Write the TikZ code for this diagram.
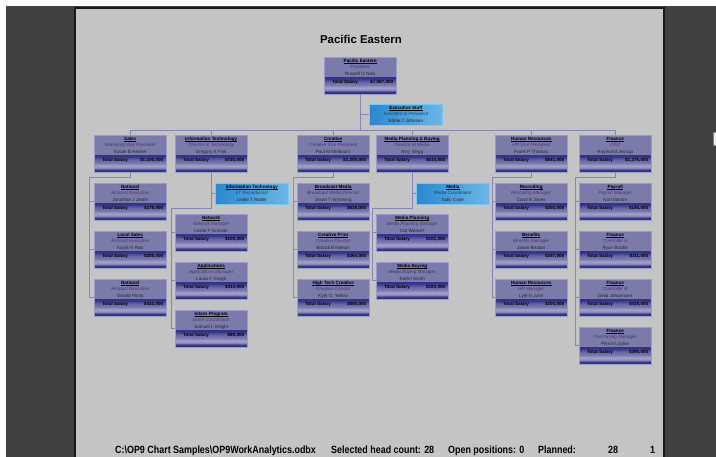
\documentclass[tikz,border=0pt]{standalone}
\usepackage{fontspec}
\setmainfont{Liberation Sans}
\usepackage{graphicx}
\usetikzlibrary{calc}
\definecolor{outerdark}{HTML}{414141}
\definecolor{pagegray}{HTML}{C4C4C4}
\definecolor{boxtop}{HTML}{7C79AB}
\definecolor{boxedge}{HTML}{9C9ACC}
\definecolor{sbA}{HTML}{2A2A7E}
\definecolor{sbB}{HTML}{3A3A88}
\definecolor{sbC}{HTML}{8A88BA}
\definecolor{sbD}{HTML}{A4A2C6}
\definecolor{sbE}{HTML}{7E7CB2}
\definecolor{sbF}{HTML}{6664A2}
\definecolor{sbG}{HTML}{4A489A}
\definecolor{sbH}{HTML}{34338A}
\definecolor{linecol}{HTML}{8886B2}
\definecolor{asstL}{HTML}{2A88CE}
\definecolor{asstR}{HTML}{6CB6E6}
\definecolor{asstEdge}{HTML}{78C8F4}
\definecolor{titlecol}{HTML}{3C3C60}
\definecolor{asstTitle}{HTML}{1C3E6E}
\pgfdeclareverticalshading{salband}{100bp}{color(0bp)=(sbA); color(25bp)=(sbA); color(33bp)=(sbB); color(38bp)=(sbC); color(45bp)=(sbD); color(52bp)=(sbE); color(62bp)=(sbF); color(68bp)=(sbG); color(72bp)=(sbH); color(75bp)=(sbH); color(100bp)=(sbH)}
\tikzset{
  orgbox/.style={minimum width=72pt, minimum height=37pt, inner sep=0pt, fill=boxtop, draw=none},
  asstbox/.style={minimum width=73pt, minimum height=21pt, inner sep=0pt, left color=asstL, right color=asstR, draw=asstEdge, line width=0.7pt},
  boxborder/.style={draw=boxedge, line width=0.7pt},
  boxtext/.style={inner sep=0pt, font=\fontsize{4.6}{5}\selectfont},
  depttxt/.style={boxtext, font=\fontsize{4.6}{5}\selectfont\bfseries, text=black},
  titletxt/.style={boxtext, font=\fontsize{4.6}{5}\selectfont\itshape, text=titlecol},
  nametxt/.style={boxtext, text=black!85},
  saltxt/.style={boxtext, font=\fontsize{4.6}{5}\selectfont\bfseries, text=black},
  uline/.style={draw=black, line width=0.35pt},
  conn/.style={draw=linecol, line width=0.8pt},
  foot/.style={inner sep=0pt, anchor=base west, font=\fontsize{10.5}{12}\bfseries\selectfont}
}
\newcommand\OrgBox[7]{%
  \node[orgbox, anchor=north west] (#1) at (#2,#3) {};
  \shade[shading=salband] ([yshift=-20.5pt]#1.north west) rectangle (#1.south east);
  \draw[boxborder] (#1.north west) rectangle (#1.south east);
  \node[depttxt, anchor=base] (#1-d) at ([yshift=-5.3pt]#1.north) {#4};
  \draw[uline] ([yshift=-0.6pt]#1-d.base west) -- ([yshift=-0.6pt]#1-d.base east);
  \node[titletxt] (#1-t) at ([yshift=-10.3pt]#1.north) {#5};
  \node[nametxt] (#1-n) at ([yshift=-17pt]#1.north) {#6};
  \node[saltxt, anchor=west] (#1-l) at ([xshift=8pt,yshift=-25pt]#1.north west) {Total Salary};
  \node[saltxt, anchor=east] (#1-s) at ([xshift=-3pt,yshift=-25pt]#1.north east) {#7};
}
\newcommand\AsstBox[6]{%
  \node[asstbox, anchor=north west] (#1) at (#2,#3) {};
  \node[depttxt, anchor=base] (#1-d) at ([yshift=-5.3pt]#1.north) {#4};
  \draw[uline] ([yshift=-0.6pt]#1-d.base west) -- ([yshift=-0.6pt]#1-d.base east);
  \node[boxtext, font=\fontsize{4.6}{5}\selectfont\itshape, text=asstTitle] (#1-t) at ([yshift=-10.3pt]#1.north) {#5};
  \node[nametxt] (#1-n) at ([yshift=-17pt]#1.north) {#6};
}
\begin{document}
\begin{tikzpicture}[x=1pt,y=-1pt]
\useasboundingbox (0,0) rectangle (716,457);
\fill[white] (0,0) rectangle (716,457);
\fill[outerdark] (6,6) rectangle (716,457);
\fill[pagegray] (75,8) rectangle (664,457);
\draw[black!90, line width=1.2pt] (75,457) -- (75,8) -- (664,8) -- (664,457);
\fill[white!88!gray, draw=gray, line width=0.4pt] (713,132) -- (716,132) -- (716,145) -- (713,145) -- cycle;

\node[inner sep=0pt, anchor=base, font=\fontsize{11.4}{13}\bfseries\selectfont] (title) at (361,44) {Pacific Eastern};

% level 0
\OrgBox{root}{324}{57}{Pacific Eastern}{President}{Russell G Neis}{\$7,087,000}
\AsstBox{exec}{369}{104}{Executive Staff}{Assistant to President}{Eddie T Johnson}

% level 1
\OrgBox{sales}{94}{135}{Sales}{Marketing Vice President}{Susan B Hecker}{\$1,100,000}
\OrgBox{it}{175}{135}{Information Technology}{Director of Technology}{Gregory K Fink}{\$720,000}
\OrgBox{creative}{297}{135}{Creative}{Creative Vice President}{Paul M Melbourn}{\$2,205,000}
\OrgBox{mpb}{376}{135}{Media Planning \& Buying}{Director of Media}{Amy Slegg}{\$610,000}
\OrgBox{hr}{495}{135}{Human Resources}{HR Vice President}{Frank P Thomas}{\$641,000}
\OrgBox{fin}{579}{135}{Finance}{CFO}{Raymond Jessup}{\$1,275,000}

% sales children
\OrgBox{sa}{94}{183}{National}{Account Executive}{Jonathan J Jestin}{\$178,000}
\OrgBox{sb}{94}{231}{Local Sales}{Account Executive}{Kayla G Roo}{\$305,000}
\OrgBox{sc}{94}{279}{National}{Account Executive}{Gerald Ponts}{\$422,000}

% IT
\AsstBox{ita}{215}{183}{Information Technology}{I/T Receptionist}{Leslie T Roder}
\OrgBox{ia}{175}{214}{Network}{Network Manager}{Leslie F Grosser}{\$100,000}
\OrgBox{ib}{175}{262}{Applications}{Applications Manager}{Laura F Grage}{\$314,000}
\OrgBox{ic}{175}{310}{Intern Program}{Intern Coordinator}{Samuel L Knight}{\$89,000}

% creative
\OrgBox{ca}{297}{183}{Broadcast Media}{Broadcast Media Director}{Jason T Wyoming}{\$638,000}
\OrgBox{cb}{297}{231}{Creative Print}{Creative Director}{Brandi B Nelson}{\$364,000}
\OrgBox{cc}{297}{279}{High Tech Creative}{Creative Director}{Kyle O. Yellow}{\$850,000}

% media
\AsstBox{ma}{416}{183}{Media}{Media Coordinator}{Sally Cane}
\OrgBox{mb}{376}{214}{Media Planning}{Media Planning Manager}{Cat Weaver}{\$101,000}
\OrgBox{mc}{376}{262}{Media Buying}{Media Buying Manager}{Karen Smith}{\$183,000}

% HR
\OrgBox{ha}{495}{183}{Recruiting}{Recruiting Manager}{Carol B Jones}{\$250,000}
\OrgBox{hb}{495}{231}{Benefits}{Benefits Manager}{Jason Beaton}{\$247,000}
\OrgBox{hc}{495}{279}{Human Resources}{HR Manager}{Lyle H June}{\$104,000}

% finance
\OrgBox{fa}{579}{183}{Payroll}{Payroll Manager}{Kal Glaston}{\$155,000}
\OrgBox{fb}{579}{231}{Finance}{Controller A}{Ryan Brodie}{\$111,000}
\OrgBox{fc}{579}{279}{Finance}{Controller B}{Delia Johannsen}{\$419,000}
\OrgBox{fd}{579}{327}{Finance}{Purchasing Manager}{Pierce Layton}{\$395,000}

% connectors
\coordinate (bus) at (0,130);
\coordinate (elb) at (0,177.5);
\coordinate (elb2) at (0,208);
\draw[conn] (root.south) -- (root.south |- bus);
\draw[conn] (exec.west) -- (exec.west -| root.south);
\draw[conn] (sales.north) -- (sales.north |- bus) -| (fin.north);
\foreach \n in {it,creative,mpb,hr} \draw[conn] (\n.north) -- (\n.north |- bus);

\draw[conn] (sales.south) -- (sales.south |- elb) -| ([xshift=-5pt]sc.west) -- (sc.west);
\foreach \n in {sa,sb} \draw[conn] ([xshift=-5pt]\n.west) -- (\n.west);

\draw[conn] (it.south) -- (it.south |- elb2) -| ([xshift=-4pt]ic.west) -- (ic.west);
\draw[conn] (ita.west) -- (ita.west -| it.south);
\foreach \n in {ia,ib} \draw[conn] ([xshift=-4pt]\n.west) -- (\n.west);

\draw[conn] (creative.south) -- (creative.south |- elb) -| ([xshift=-4pt]cc.west) -- (cc.west);
\foreach \n in {ca,cb} \draw[conn] ([xshift=-4pt]\n.west) -- (\n.west);

\draw[conn] (mpb.south) -- (mpb.south |- elb2) -| ([xshift=-4pt]mc.west) -- (mc.west);
\draw[conn] (ma.west) -- (ma.west -| mpb.south);
\draw[conn] ([xshift=-4pt]mb.west) -- (mb.west);

\draw[conn] (hr.south) -- (hr.south |- elb) -| ([xshift=-3pt]hc.west) -- (hc.west);
\foreach \n in {ha,hb} \draw[conn] ([xshift=-3pt]\n.west) -- (\n.west);

\draw[conn] (fin.south) -- (fin.south |- elb) -| ([xshift=-4pt]fd.west) -- (fd.west);
\foreach \n in {fa,fb,fc} \draw[conn] ([xshift=-4pt]\n.west) -- (\n.west);

% footer
\node[foot] (f1) at (115,454) {\scalebox{0.85}[1]{C:\textbackslash OP9 Chart Samples\textbackslash OP9WorkAnalytics.odbx}};
\node[foot] (f2) at (331,454) {\scalebox{0.85}[1]{Selected head count: 28}};
\node[foot] (f3) at (448,454) {\scalebox{0.85}[1]{Open positions: 0}};
\node[foot] (f4) at (538,454) {\scalebox{0.85}[1]{Planned:}};
\node[foot] (f5) at (608,454) {\scalebox{0.85}[1]{28}};
\node[foot] (f6) at (650,454) {\scalebox{0.85}[1]{1}};
\end{tikzpicture}
\end{document}
